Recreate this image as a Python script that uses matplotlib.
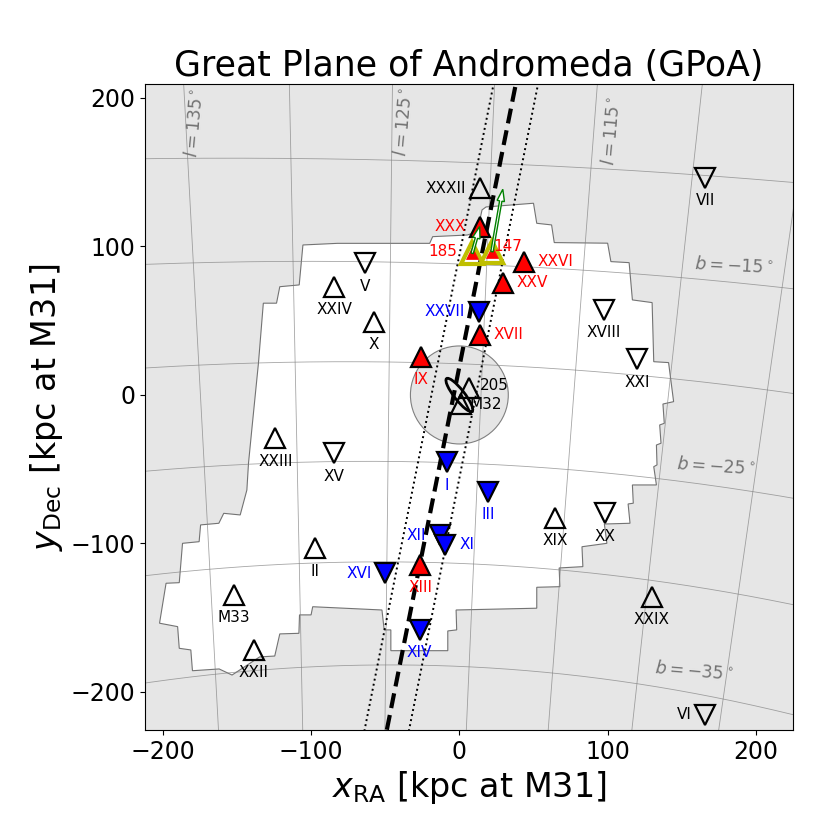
import numpy as np
import matplotlib
matplotlib.use('Agg')
import matplotlib.pyplot as plt
from matplotlib.patches import Polygon, Circle, Ellipse, FancyArrow

# satellites: name, x, y [kpc at M31]
sat_name = ['XXXII', 'VII', 'XXX', 'XXVI', 'XXV', 'XXVII', 'XVII', 'IX',
            'XXIV', 'V', 'X', 'XVIII', 'XXI', 'XXIII', 'XV', 'I', 'III',
            'XIX', 'XX', 'XII', 'XI', 'II', 'XVI', 'XIII', 'M33', 'XXIX',
            'XIV', 'XXII', 'VI', '205', 'M32']
sat_x = [14.2, 165.9, 13.7, 43.4, 29.2, 13.0, 13.7, -25.6,
         -84.3, -63.9, -57.8, 97.3, 119.8, -124.1, -84.8, -8.3, 19.4,
         64.7, 98.4, -13.3, -9.4, -97.1, -49.9, -26.3, -152.2, 129.9,
         -26.8, -138.7, 165.9, 6.3, 1.3]
sat_y = [139.2, 146.1, 113.3, 89.8, 75.6, 56.1, 40.4, 25.8,
         72.9, 88.7, 49.4, 57.2, 24.0, -29.2, -39.3, -45.3, -65.1,
         -82.8, -79.7, -94.3, -100.7, -103.2, -120.1, -114.5, -134.7, -135.8,
         -158.2, -171.7, -215.5, 4.5, -6.1]
# 'up' = approaching, 'down' = receding
sat_dir = ['up', 'down', 'up', 'up', 'up', 'down', 'up', 'up',
           'up', 'down', 'up', 'down', 'down', 'up', 'down', 'down', 'down',
           'up', 'down', 'down', 'down', 'up', 'down', 'up', 'up', 'up',
           'down', 'up', 'down', 'up', 'up']
# 'off' = not in plane, 'red'/'blue' = plane member
sat_group = ['off', 'off', 'red', 'red', 'red', 'blue', 'red', 'red',
             'off', 'off', 'off', 'off', 'off', 'off', 'off', 'blue', 'blue',
             'off', 'off', 'blue', 'blue', 'off', 'blue', 'red', 'off', 'off',
             'blue', 'off', 'off', 'off', 'off']
sat_label_pos = ['left', 'below', 'left', 'right', 'right', 'left', 'right', 'below',
                 'below', 'below', 'below', 'below', 'below', 'below', 'below', 'below', 'below',
                 'below', 'below', 'left', 'right', 'below', 'left', 'below', 'below', 'below',
                 'below', 'below', 'left', 'right', 'right']

# globular clusters with proper motions
gc_name = ['185', '147']
gc_x = [8.6, 22.0]
gc_y = [95.4, 96.5]
pm_dx = [5.1, 7.3]
pm_dy = [18.0, 42.0]

# PAndAS footprint outline
foot_x = [-105.5, -82.2, -20.0, -18.0, 5.3, 12.0, 15.3, 18.0, 50.0, 52.2, 62.2, 64.0,
          100.0, 102.2, 114.5, 116.7, 130.0, 131.1, 141.1, 144.5, 137.3, 138.2, 135.1, 136.0,
          132.9, 133.3, 131.1, 132.9, 116.7, 117.3, 113.8, 115.1, 97.8, 99.5, 82.7, 83.3,
          67.3, 67.8, 52.2, 52.2, -2.2, -1.8, -7.8, -7.8, -46.2, -46.2, -50.7, -52.2,
          -98.9, -100.0, -107.8, -108.2, -121.1, -124.5, -134.7, -153.3, -162.0, -180.0,
          -181.1, -188.9, -190.0, -202.2, -197.8, -188.9, -186.7, -175.5, -174.5, -162.2,
          -158.9, -147.8, -143.3, -142.2, -140.0, -135.5, -132.2, -123.3, -121.1, -108.0]
foot_y = [101.0, 102.1, 102.1, 106.6, 107.7, 109.8, 124.6, 126.6, 129.1, 115.6, 114.5, 102.6,
          102.2, 89.8, 89.1, 64.0, 62.2, 22.4, 21.8, -4.5, -6.1, -19.1, -20.2, -32.5,
          -33.7, -47.1, -48.3, -60.6, -60.6, -72.9, -73.4, -86.4, -86.9, -99.9, -102.2, -115.6,
          -116.5, -129.1, -129.5, -143.6, -144.8, -158.2, -158.9, -172.2, -172.2, -158.2, -158.2, -144.8,
          -142.6, -148.1, -148.1, -160.5, -160.9, -175.8, -176.4, -188.6, -184.5, -185.7,
          -171.7, -170.6, -156.0, -153.7, -126.8, -126.4, -99.9, -98.8, -87.5, -86.4,
          -79.7, -80.8, -64.0, -46.0, -23.6, 21.3, 61.8, 61.8, 72.9, 74.1]

# best-fit plane (x = x0 + slope*y) and its rms width
plane_x0 = -3.8
plane_slope = 0.2
plane_rms = 15.0

# galactic grid
grid_l = [100, 105, 110, 115, 120, 125, 130, 135, 140, 145]
grid_b = [-5, -10, -15, -20, -25, -30, -35, -40, -45]
ra_m31, dec_m31, d_m31 = 10.6847, 41.2690, 765.0


def gal_to_xy(l, b):
    # galactic -> equatorial, then tangent-plane projection around M31
    T = np.array([[-0.0548755604, -0.8734370902, -0.4838350155],
                  [0.4941094279, -0.4448296300, 0.7469822445],
                  [-0.8676661490, -0.1980763734, 0.4559837762]])
    l = np.radians(l)
    b = np.radians(b)
    v = np.array([np.cos(b) * np.cos(l), np.cos(b) * np.sin(l), np.sin(b)])
    eq = T.T @ v
    ra = np.arctan2(eq[1], eq[0])
    dec = np.arcsin(eq[2])
    a0, d0 = np.radians(ra_m31), np.radians(dec_m31)
    da = ra - a0
    cosc = np.sin(d0) * np.sin(dec) + np.cos(d0) * np.cos(dec) * np.cos(da)
    xi = np.cos(dec) * np.sin(da) / cosc
    eta = (np.cos(d0) * np.sin(dec) - np.sin(d0) * np.cos(dec) * np.cos(da)) / cosc
    return -xi * d_m31, eta * d_m31


fig = plt.figure(figsize=(8.3, 8.3), dpi=100)
ax = fig.add_axes([0.1747, 0.1205, 0.7807, 0.7783])
ax.set_facecolor('0.9')
ax.set_xlim(-212, 225)
ax.set_ylim(-225.6, 209.4)

ax.add_patch(Polygon(np.column_stack([foot_x, foot_y]), closed=True,
                     fc='white', ec='0.45', lw=0.8, zorder=0.5))

# grid lines
for l in grid_l:
    bb = np.linspace(-50, 0, 200)
    gx, gy = gal_to_xy(np.full_like(bb, l), bb)
    ax.plot(gx, gy, color='0.5', lw=0.6, alpha=0.7, zorder=0.8)
for b in grid_b:
    ll = np.linspace(95, 150, 200)
    gx, gy = gal_to_xy(ll, np.full_like(ll, b))
    ax.plot(gx, gy, color='0.5', lw=0.6, alpha=0.7, zorder=0.8)

gl_kw = dict(color='0.45', fontsize=12.5, ha='center', va='center', zorder=1)
ax.text(-178, 183, r'$l = 135^\circ$', rotation=85, **gl_kw)
ax.text(-37, 184, r'$l = 125^\circ$', rotation=85, **gl_kw)
ax.text(103, 178, r'$l = 115^\circ$', rotation=85, **gl_kw)
ax.text(185, 87, r'$b = -15^\circ$', rotation=-3, **gl_kw)
ax.text(173, -48.5, r'$b = -25^\circ$', rotation=-4, **gl_kw)
ax.text(158, -186.5, r'$b = -35^\circ$', rotation=-5, **gl_kw)

# inner region around M31
ax.add_patch(Circle((0, 0), 33, fc='0.5', alpha=0.2, ec='none', zorder=1))
ax.add_patch(Circle((0, 0), 33, fc='none', ec='0.5', lw=0.8, zorder=1))

# plane fit
yy = np.array([-240, 230])
ax.plot(plane_x0 + plane_slope * yy, yy, 'k--', lw=3, dashes=(3.6, 1.7), zorder=2)
ax.plot(plane_x0 - plane_rms + plane_slope * yy, yy, 'k:', lw=1.4, zorder=2)
ax.plot(plane_x0 + plane_rms + plane_slope * yy, yy, 'k:', lw=1.4, zorder=2)

# M31 disc
ax.add_patch(Ellipse((0, 0), 28, 7, angle=128, fc='none', ec='k', lw=2, zorder=3))

face = {'off': 'none', 'red': 'r', 'blue': 'b'}
text_col = {'off': 'k', 'red': 'r', 'blue': 'b'}
offsets = {'below': ((0, -16.5), 'center', 'center'),
           'left': ((-10, 0), 'right', 'center'),
           'right': ((10, 0), 'left', 'center')}
for n, x, y, d, g, p in zip(sat_name, sat_x, sat_y, sat_dir, sat_group, sat_label_pos):
    m = '^' if d == 'up' else 'v'
    ax.plot(x, y, marker=m, ms=15, mfc=face[g], mec='k', mew=1.6, ls='none', zorder=4)
    off, ha, va = offsets[p]
    if n in ('205', 'M32'):
        off = (8, 2) if n == '205' else (6, 0)
    ax.annotate(n, (x, y), xytext=off, textcoords='offset points', ha=ha, va=va,
                color=text_col[g], fontsize=11, zorder=5)

for n, x, y, dx, dy in zip(gc_name, gc_x, gc_y, pm_dx, pm_dy):
    ax.plot(x, y, marker='^', ms=15.5, mfc='none', mec='y', mew=3, ls='none', zorder=4)
    ax.plot(x, y, marker='^', ms=9, mfc='r', mec='r', mew=0.5, ls='none', zorder=4)
    ax.add_patch(FancyArrow(x, y, dx, dy, width=1.6, head_width=5, head_length=8,
                            length_includes_head=True, fc='white', ec='green', lw=1, zorder=5))
ax.annotate(gc_name[0], (gc_x[0], gc_y[0]), xytext=(-11, 1), textcoords='offset points',
            ha='right', va='center', color='r', fontsize=11, zorder=5)
ax.annotate(gc_name[1], (gc_x[1], gc_y[1]), xytext=(1, 4), textcoords='offset points',
            ha='left', va='center', color='r', fontsize=11, zorder=5)

ax.set_xticks([-200, -100, 0, 100, 200])
ax.set_yticks([-200, -100, 0, 100, 200])
ax.tick_params(labelsize=17)
ax.set_xlabel(r'$x_{\rm RA}$ [kpc at M31]', fontsize=24)
ax.set_ylabel(r'$y_{\rm Dec}$ [kpc at M31]', fontsize=24)
ax.set_title('Great Plane of Andromeda (GPoA)', fontsize=25)

fig.savefig('out.png', dpi=100)
